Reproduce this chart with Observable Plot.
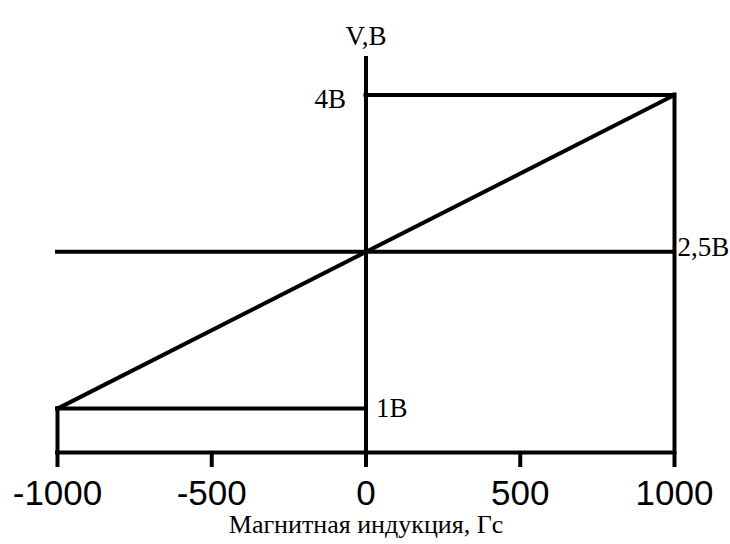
<!DOCTYPE html>
<html>
<head>
<meta charset="utf-8">
<script src="https://cdn.jsdelivr.net/npm/d3@7"></script>
<script src="https://cdn.jsdelivr.net/npm/@observablehq/plot@0.6"></script>
<style>
  html, body { margin: 0; padding: 0; background: white; }
</style>
</head>
<body>
<div id="chart"></div>
<script>
// Data
const xTicks = [-1000, -500, 0, 500, 1000];
const xMin = -1000, xMax = 1000, xZero = 0;
const vLow = 1, vMid = 2.5, vHigh = 4;
const vBase = 0.58;   // level of the horizontal axis line
const vTop = 4.35;    // top of the vertical axis
const outputLine = [[xMin, vLow], [xMax, vHigh]];
const labelHigh = "4В", labelMid = "2,5В", labelLow = "1В";
const yTitle = "V,В";
const xTitle = "Магнитная индукция, Гс";

const sw = 4;
const common = {stroke: "black", strokeWidth: sw, strokeLinecap: "square"};
const lblFont = 27;

const chart = Plot.plot({
  width: 730,
  height: 544,
  marginLeft: 57,
  marginRight: 56,
  marginTop: 58,
  marginBottom: 92,
  style: {fontFamily: "Liberation Serif", background: "white", color: "black"},
  x: {domain: [xMin, xMax], axis: null},
  y: {domain: [vBase, vTop], axis: null},
  marks: [
    Plot.axisX(xTicks, {
      ticks: xTicks,
      tickSize: 15,
      tickPadding: 13,
      strokeWidth: sw,
      stroke: "black",
      fill: "black",
      fontSize: 35,
      fontFamily: "Liberation Sans",
      tickFormat: d => String(d),
      label: null
    }),
    Plot.ruleY([vBase], {x1: xMin, x2: xMax, ...common}),
    Plot.ruleX([xZero], {y1: vBase, y2: vTop, ...common}),
    Plot.ruleY([vMid], {x1: xMin, x2: xMax, ...common}),
    Plot.ruleY([vHigh], {x1: xZero, x2: xMax, ...common}),
    Plot.ruleX([xMax], {y1: vBase, y2: vHigh, ...common}),
    Plot.ruleY([vLow], {x1: xMin, x2: xZero, ...common}),
    Plot.ruleX([xMin], {y1: vBase, y2: vLow, ...common}),
    Plot.line(outputLine, {x: d => d[0], y: d => d[1], stroke: "black", strokeWidth: sw, strokeLinecap: "butt"}),
    Plot.text([labelHigh], {x: xZero, y: vHigh, text: d => d, textAnchor: "end", dx: -20, dy: 4, fontSize: lblFont, fill: "black"}),
    Plot.text([labelMid], {x: xMax, y: vMid, text: d => d, textAnchor: "start", dx: 3, dy: -4, fontSize: lblFont, fill: "black"}),
    Plot.text([labelLow], {x: xZero, y: vLow, text: d => d, textAnchor: "start", dx: 10, dy: 0, fontSize: lblFont, fill: "black"}),
    Plot.text([yTitle], {frameAnchor: "top", dy: -33, fontSize: lblFont, fill: "black"}),
    Plot.text([xTitle], {frameAnchor: "bottom", dy: 80, fontSize: 26, fill: "black"})
  ]
});

document.getElementById("chart").appendChild(chart);
</script>
</body>
</html>
